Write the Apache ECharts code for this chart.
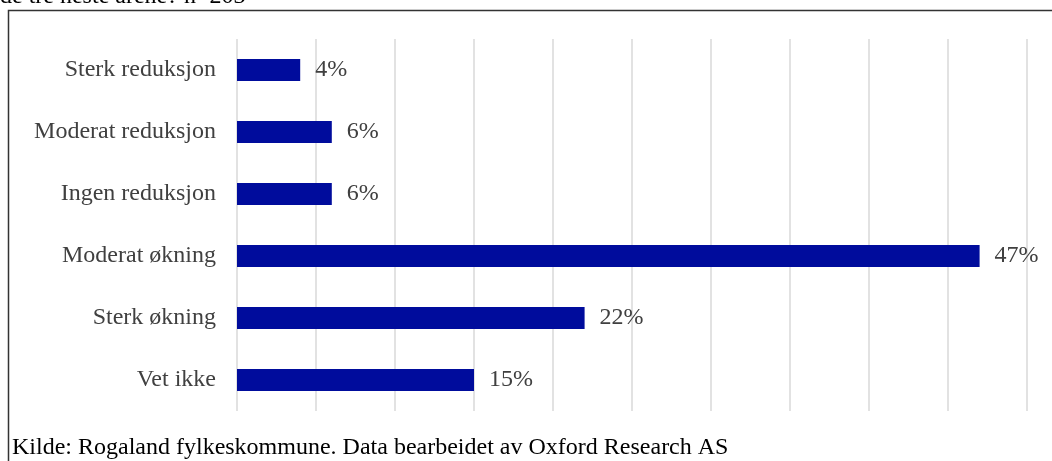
<!DOCTYPE html>
<html>
<head>
<meta charset="utf-8">
<script src="https://cdn.jsdelivr.net/npm/echarts@6/dist/echarts.min.js"></script>
<style>
  html, body { margin: 0; padding: 0; background: #fff; }
  #chart { width: 1052px; height: 461px; }
</style>
</head>
<body>
<div id="chart"></div>
<script>
// kategorier fra topp til bunn
var categories = ['Sterk reduksjon', 'Moderat reduksjon', 'Ingen reduksjon', 'Moderat økning', 'Sterk økning', 'Vet ikke'];
var values = [4, 6, 6, 47, 22, 15];
var titleText = 'de tre neste årene? n=203';
var sourceText = 'Kilde: Rogaland fylkeskommune. Data bearbeidet av Oxford Research AS';

var font = '"Liberation Serif", "Times New Roman", serif';
var myChart = echarts.init(document.getElementById('chart'));
option = {
    animation: false,
    grid: { left: 237, right: 25, top: 39, bottom: 50 },
    graphic: [
        {
            type: 'rect',
            shape: { x: 8.5, y: 10.5, width: 1100, height: 500 },
            style: { fill: 'none', stroke: '#333', lineWidth: 1.5 }
        },
        {
            type: 'text', left: 0, top: -15,
            style: { text: titleText, font: '24px ' + font, fill: '#000' }
        },
        {
            type: 'text', left: 12, top: 436,
            style: { text: sourceText, font: '24px ' + font, fill: '#000' }
        }
    ],
    xAxis: {
        type: 'value',
        min: 0,
        max: 50,
        interval: 5,
        axisLabel: { show: false },
        axisLine: { show: false },
        axisTick: { show: false },
        splitLine: { lineStyle: { color: '#d9d9d9', width: 1.5 } }
    },
    yAxis: {
        type: 'category',
        inverse: true,
        data: categories,
        axisLine: { show: false },
        axisTick: { show: false },
        axisLabel: {
            margin: 21,
            color: '#404040',
            fontFamily: font,
            fontSize: 24
        }
    },
    series: [
        {
            type: 'bar',
            data: values,
            barWidth: 22,
            itemStyle: { color: '#000c9c' },
            label: {
                show: true,
                position: 'right',
                distance: 15,
                formatter: '{c}%',
                color: '#404040',
                fontFamily: font,
                fontSize: 24
            }
        }
    ]
};
myChart.setOption(option);
</script>
</body>
</html>
